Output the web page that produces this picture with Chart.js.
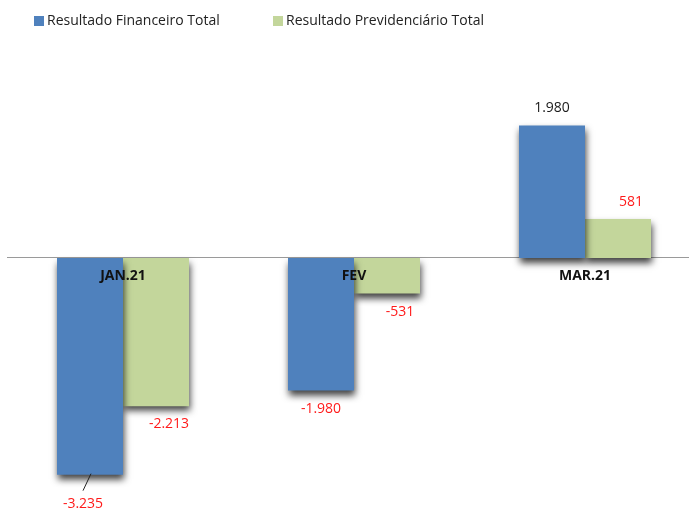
<!DOCTYPE html>
<html>
<head>
<meta charset="utf-8">
<script src="https://cdn.jsdelivr.net/npm/chart.js@4.4.1/dist/chart.umd.min.js"></script>
<style>
  html, body { margin: 0; padding: 0; background: #fff; overflow: hidden; }
  #wrap { width: 710px; height: 508px; }
</style>
</head>
<body>
<div id="wrap"><canvas id="resultChart" width="710" height="508"></canvas></div>
<script>
const months = ['JAN.21', 'FEV', 'MAR.21'];
const financeiro = [-3235, -1980, 1980];
const previdenciario = [-2213, -531, 581];
const seriesNames = ['Resultado Financeiro Total', 'Resultado Previdenciário Total'];
const seriesColors = ['#4F81BD', '#C3D69B'];
const yMin = -3464;
const yMax = 2807;

// 1234 -> "1.234" (pt-BR thousands)
function fmt(v) {
    const s = String(Math.abs(v)).replace(/\B(?=(\d{3})+(?!\d))/g, '.');
    return (v < 0 ? '-' : '') + s;
}

const barShadow = {
    id: 'barShadow',
    beforeDatasetsDraw(chart) {
        const c = chart.ctx;
        c.save();
        c.shadowColor = 'rgba(0,0,0,0.75)';
        c.shadowBlur = 7;
        c.shadowOffsetX = 1;
        c.shadowOffsetY = 5;
    },
    afterDatasetsDraw(chart) {
        chart.ctx.restore();
    }
};

const topLegend = {
    id: 'topLegend',
    afterDraw(chart, args, opts) {
        const ctx = chart.ctx;
        ctx.save();
        ctx.font = opts.font;
        ctx.textBaseline = 'middle';
        chart.data.datasets.forEach((ds, i) => {
            const x = opts.x[i];
            ctx.fillStyle = ds.backgroundColor;
            ctx.fillRect(x, opts.y - 5, 10, 10);
            ctx.fillStyle = opts.color;
            ctx.fillText(ds.label, x + 13, opts.y);
        });
        ctx.restore();
    }
};

const valueLabels = {
    id: 'valueLabels',
    afterDraw(chart, args, opts) {
        const ctx = chart.ctx;
        ctx.save();
        ctx.font = opts.font;
        ctx.textAlign = 'center';
        ctx.textBaseline = 'middle';
        chart.data.datasets.forEach((ds, di) => {
            chart.getDatasetMeta(di).data.forEach((bar, i) => {
                const v = ds.data[i];
                let x = bar.x + (di === 1 ? 13 : 0);
                let y = v < 0 ? bar.y + 18 : bar.y - 17;
                if (di === 0 && i === 0) {
                    // leader line for the deepest bar
                    ctx.strokeStyle = '#222';
                    ctx.lineWidth = 1;
                    ctx.beginPath();
                    ctx.moveTo(bar.x + 1, bar.y - 1);
                    ctx.lineTo(bar.x - 7, bar.y + 16);
                    ctx.stroke();
                    x = bar.x - 7;
                    y = bar.y + 29;
                }
                ctx.fillStyle = (di === 0 && v > 0) ? '#1a1a1a' : '#FF1A1A';
                ctx.fillText(fmt(v), x, y);
            });
        });
        ctx.restore();
    }
};

new Chart(document.getElementById('resultChart'), {
    type: 'bar',
    data: {
        labels: months,
        datasets: [{
            label: seriesNames[0],
            data: financeiro,
            backgroundColor: seriesColors[0],
            barPercentage: 1,
            categoryPercentage: 0.5714
        }, {
            label: seriesNames[1],
            data: previdenciario,
            backgroundColor: seriesColors[1],
            barPercentage: 1,
            categoryPercentage: 0.5714
        }]
    },
    options: {
        responsive: false,
        animation: false,
        layout: { padding: { left: 7.5, right: 9.5, top: 70, bottom: 18 } },
        plugins: {
            legend: { display: false },
            tooltip: { enabled: false },
            topLegend: { x: [34, 273], y: 21, font: '14px "Open Sans"', color: '#222' },
            valueLabels: { font: '14px "Open Sans"' }
        },
        scales: {
            x: {
                position: { y: 0 },
                grid: { display: false, drawTicks: false },
                border: { display: true, color: '#9a9a9a', width: 1 },
                ticks: {
                    z: 1,
                    padding: 10,
                    color: '#111',
                    font: { family: 'Open Sans', size: 14, weight: 'bold' }
                },
                afterFit(scale) { scale.height = 0; }
            },
            y: {
                display: false,
                min: yMin,
                max: yMax
            }
        }
    },
    plugins: [barShadow, topLegend, valueLabels]
});
</script>
</body>
</html>
